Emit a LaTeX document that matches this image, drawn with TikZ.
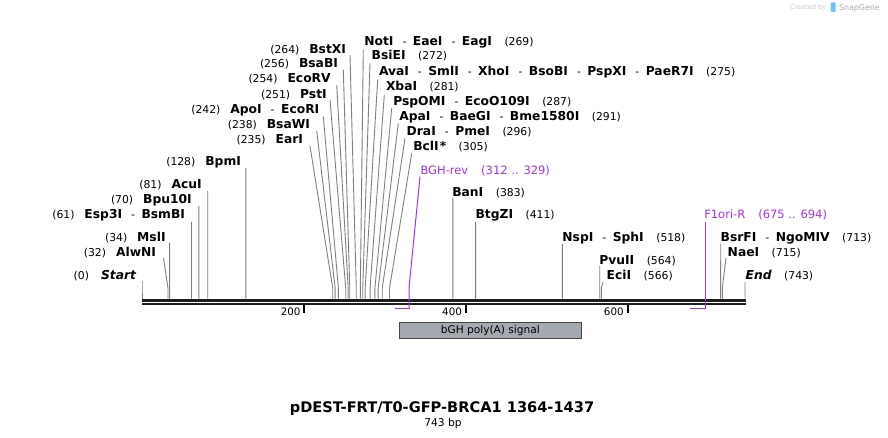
\documentclass[tikz,border=0pt]{standalone}
\usepackage{fontspec}
\setmainfont{DejaVu Sans}
\definecolor{enzgray}{RGB}{128,128,128}
\definecolor{primer}{RGB}{160,50,240}
\definecolor{featfill}{RGB}{164,169,176}
\definecolor{featdraw}{RGB}{70,70,70}
\definecolor{bbone}{RGB}{30,30,30}
\definecolor{wmgray}{RGB}{200,200,200}
\definecolor{wmblue}{RGB}{110,195,240}
\definecolor{wmtext}{RGB}{165,172,180}
\newcommand\enzname[1]{{\fontsize{12.3}{14}\selectfont\bfseries #1}}
\newcommand\enznum[1]{{\fontsize{10.8}{13}\selectfont #1}}
\newcommand\enzdash{\hspace{9pt}{\fontsize{10.8}{13}\selectfont -}\hspace{6.5pt}}
\newcommand\gapR{\hspace{12.5pt}}
\newcommand\gapL{\hspace{10pt}}
% id, pos, topx, topy, anchor, shift, content
\newcommand\enzlabel[7]{%
  \coordinate (#1t) at (#3,#4);
  \node[lab, anchor=#5] (#1) at ([shift={#6}]#1t) {#7};
  \coordinate (#1k) at ({142+0.8116*#2},288);
  \coordinate (#1b) at ({142+0.8116*#2},298.6);
  \draw[enzline] (#1t) -- (#1k) -- (#1b);
}
\begin{document}
\begin{tikzpicture}[x=1pt,y=-1pt,
  lab/.style={inner sep=0pt, outer sep=0pt},
  enzline/.style={draw=enzgray, line width=0.9pt},
  primline/.style={draw=primer, line width=1pt},
  primbar/.style={draw=primer, line width=1.8pt},
  primlab/.style={inner sep=0pt, outer sep=0pt, text=primer, font=\fontsize{11.5}{13}\selectfont},
  bbline/.style={draw=bbone, line width=2.3pt},
  tickmark/.style={draw=black, line width=1.8pt},
  ticklab/.style={inner sep=0pt, outer sep=0pt, font=\fontsize{10.3}{12}\selectfont},
  featbox/.style={draw=featdraw, fill=featfill, line width=1pt, minimum width=182pt, minimum height=16pt, inner sep=0pt, font=\fontsize{10.6}{12}\selectfont}
]
\useasboundingbox (0,0) rectangle (888,438);

% watermark
\node[lab, anchor=base west, text=wmgray, font=\fontsize{6.6}{8}\selectfont] (wm1) at (790,10) {Created by};
\fill[wmblue, rounded corners=1pt] (830.5,2.5) rectangle (835.5,12);
\node[lab, anchor=base west, text=wmtext, font=\fontsize{7.9}{9}\selectfont] (wm2) at (839,10.5) {SnapGene};

% backbone
\draw[bbline] (141.5,300.5) -- (746,300.5);
\draw[bbline] (141.5,303.9) -- (746,303.9);

% ticks
\draw[tickmark] (303.7,305.2) -- (303.7,312.6);
\draw[tickmark] (465.8,305.2) -- (465.8,312.6);
\draw[tickmark] (627.7,305.2) -- (627.7,312.6);
\node[ticklab, anchor=base east] (t200) at (300.5,315.3) {200};
\node[ticklab, anchor=base east] (t400) at (461.9,315.3) {400};
\node[ticklab, anchor=base east] (t600) at (623.6,315.3) {600};

% left labels
\enzlabel{start}{0}{142}{281}{base east}{(-6,-2)}{\enznum{(0)}\hspace{12pt}\enzname{\itshape Start}}
\enzlabel{alwni}{32}{163.5}{258}{base east}{(-7.5,-2)}{\enznum{(32)}\gapL\enzname{AlwNI}}
\enzlabel{msli}{34}{169.6}{243}{base east}{(-4,-2)}{\enznum{(34)}\gapL\enzname{MslI}}
\enzlabel{esp3i}{61}{191.5}{222}{base east}{(-6.5,-3)}{\enznum{(61)}\gapL\enzname{Esp3I}\enzdash\enzname{BsmBI}}
\enzlabel{bpuxi}{70}{198.8}{206}{base east}{(-7,-2)}{\enznum{(70)}\gapL\enzname{Bpu10I}}
\enzlabel{acui}{81}{207.7}{191}{base east}{(-6,-2)}{\enznum{(81)}\gapL\enzname{AcuI}}
\enzlabel{bpmi}{128}{245.9}{168}{base east}{(-5,-2)}{\enznum{(128)}\gapL\enzname{BpmI}}
\enzlabel{eari}{235}{310}{146}{base east}{(-7,-2)}{\enznum{(235)}\gapL\enzname{EarI}}
\enzlabel{bsawi}{238}{316.7}{130.7}{base east}{(-6.7,-1.7)}{\enznum{(238)}\gapL\enzname{BsaWI}}
\enzlabel{ecori}{242}{323.3}{116.7}{base east}{(-4,-2.7)}{\enznum{(242)}\gapL\enzname{ApoI}\enzdash\enzname{EcoRI}}
\enzlabel{psti}{251}{330}{100}{base east}{(-3.3,-1)}{\enznum{(251)}\gapL\enzname{PstI}}
\enzlabel{ecorv}{254}{336.7}{85}{base east}{(-6,-2)}{\enznum{(254)}\gapL\enzname{EcoRV}}
\enzlabel{bsabi}{256}{343.3}{70}{base east}{(-5.3,-2)}{\enznum{(256)}\gapL\enzname{BsaBI}}
\enzlabel{bstxi}{264}{350}{55}{base east}{(-4,-1)}{\enznum{(264)}\gapL\enzname{BstXI}}

% right labels
\enzlabel{noti}{269}{363.3}{50}{base west}{(1,-4)}{\enzname{NotI}\enzdash\enzname{EaeI}\enzdash\enzname{EagI}\gapR\enznum{(269)}}
\enzlabel{bsiei}{272}{370}{63.3}{base west}{(1.7,-3.3)}{\enzname{BsiEI}\gapR\enznum{(272)}}
\enzlabel{avai}{275}{377.7}{79.3}{base west}{(1.3,-3.3)}{\enzname{AvaI}\enzdash\enzname{SmlI}\enzdash\enzname{XhoI}\enzdash\enzname{BsoBI}\enzdash\enzname{PspXI}\enzdash\enzname{PaeR7I}\gapR\enznum{(275)}}
\enzlabel{xbai}{281}{384.3}{95}{base west}{(1.7,-4)}{\enzname{XbaI}\gapR\enznum{(281)}}
\enzlabel{pspomi}{287}{391.7}{108.3}{base west}{(1.6,-2.6)}{\enzname{PspOMI}\enzdash\enzname{EcoO109I}\gapR\enznum{(287)}}
\enzlabel{apai}{291}{398.3}{123.3}{base west}{(1,-2.6)}{\enzname{ApaI}\enzdash\enzname{BaeGI}\enzdash\enzname{Bme1580I}\gapR\enznum{(291)}}
\enzlabel{drai}{296}{405}{138.3}{base west}{(1.7,-2.6)}{\enzname{DraI}\enzdash\enzname{PmeI}\gapR\enznum{(296)}}
\enzlabel{bcli}{305}{411.7}{153.3}{base west}{(1.6,-2.6)}{\enzname{BclI\hspace{1pt}*}\gapR\enznum{(305)}}
\enzlabel{bani}{383}{452.8}{198}{base west}{(-0.5,-1.7)}{\enzname{BanI}\gapR\enznum{(383)}}
\enzlabel{btgzi}{411}{475.6}{222}{base west}{(0,-3)}{\enzname{BtgZI}\gapR\enznum{(411)}}
\enzlabel{nspi}{518}{562.4}{244}{base west}{(0,-3)}{\enzname{NspI}\enzdash\enzname{SphI}\gapR\enznum{(518)}}
\enzlabel{pvuii}{564}{599.7}{266}{base west}{(-0.4,-2)}{\enzname{PvuII}\gapR\enznum{(564)}}
\enzlabel{ecii}{566}{603}{282}{base west}{(3.7,-3)}{\enzname{EciI}\gapR\enznum{(566)}}
\enzlabel{bsrfi}{713}{720.7}{244}{base west}{(0,-3)}{\enzname{BsrFI}\enzdash\enzname{NgoMIV}\gapR\enznum{(713)}}
\enzlabel{naei}{715}{726}{258}{base west}{(1.7,-1.7)}{\enzname{NaeI}\gapR\enznum{(715)}}
\enzlabel{endl}{743}{745}{282}{base west}{(0.7,-3)}{\enzname{\itshape End}\gapR\enznum{(743)}}

% primers
\node[primlab, anchor=base west] (bghrev) at (420.5,174.7) {BGH-rev\hspace{13pt}(312 .. 329)};
\coordinate (bghk) at (409,288);
\coordinate (bghb) at (409,308.5);
\coordinate (bghs) at (395.2,308.5);
\draw[primline] ([shift={(-0.5,2)}]bghrev.base west) -- (bghk) -- (bghb);
\draw[primbar] (bghs) -- ([xshift=0.5pt]bghb);

\node[primlab, anchor=base west] (f1ori) at (704.3,219) {F1ori-R\hspace{13pt}(675 .. 694)};
\coordinate (f1b) at (705,308.5);
\coordinate (f1s) at (689.8,308.5);
\draw[primline] ([shift={(0.7,3)}]f1ori.base west) -- (f1b);
\draw[primbar] (f1s) -- ([xshift=0.5pt]f1b);

% feature
\node[featbox] (bgh) at (490.3,330.3) {bGH poly(A) signal};

% title
\node[lab, anchor=base, font=\fontsize{14.6}{16}\selectfont\bfseries] (title) at (442,412) {pDEST-FRT/T0-GFP-BRCA1 1364-1437};
\node[lab, anchor=base, font=\fontsize{10.7}{12}\selectfont] (bp) at (443,426.5) {743 bp};
\end{tikzpicture}
\end{document}
